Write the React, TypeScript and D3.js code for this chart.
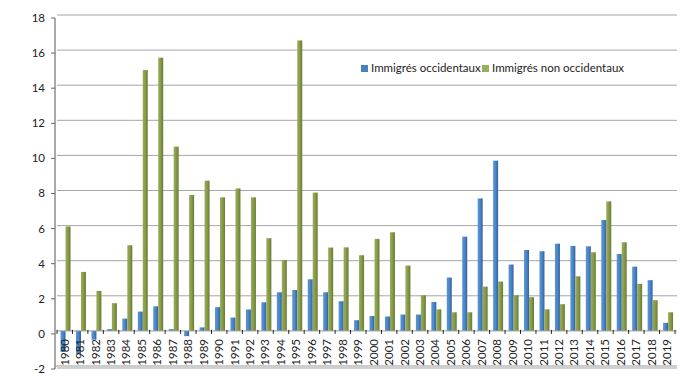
import React from "react";
import * as d3 from "d3";

const years: string[] = d3.range(1980, 2020).map(String);
const occidentaux: number[] = [
  -1.2, -1.3, -0.5, 0.1, 0.7, 1.1, 1.4, 0.1, -0.3, 0.2,
  1.35, 0.76, 1.22, 1.63, 2.2, 2.33, 2.94, 2.2, 1.69, 0.61,
  0.85, 0.82, 0.93, 0.93, 1.65, 3.04, 5.37, 7.55, 9.7, 3.78,
  4.61, 4.54, 4.97, 4.84, 4.82, 6.32, 4.38, 3.66, 2.89, 0.46,
];
const nonOccidentaux: number[] = [
  5.95, 3.36, 2.28, 1.58, 4.88, 14.86, 15.57, 10.5, 7.74, 8.56,
  7.61, 8.12, 7.61, 5.28, 4.04, 16.55, 7.88, 4.75, 4.76, 4.31,
  5.24, 5.62, 3.72, 2.03, 1.23, 1.06, 1.06, 2.52, 2.81, 2.03,
  1.92, 1.23, 1.52, 3.11, 4.48, 7.38, 5.05, 2.68, 1.75, 1.06,
];
const seriesNames: string[] = ["Immigrés occidentaux", "Immigrés non occidentaux"];
const yTicks: number[] = [-2, 0, 2, 4, 6, 8, 10, 12, 14, 16, 18];

const W = 680;
const H = 378;
const FONT = "Lato, 'Open Sans', sans-serif";

export default function App() {
  const y = d3.scaleLinear().domain([-2, 18]).range([366, 15]);
  const x = d3.scaleBand<string>().domain(years).range([57, 675]).padding(0);
  const x1 = d3
    .scaleBand<string>()
    .domain(["occ", "non"])
    .range([0, x.bandwidth()])
    .paddingInner(0)
    .paddingOuter(0.55);
  const bw = x1.bandwidth();
  const shift = 0.8;

  const series = [
    { key: "occ", values: occidentaux, fill: "url(#gBlue)" },
    { key: "non", values: nonOccidentaux, fill: "url(#gGreen)" },
  ];

  return (
    <svg
      width={W}
      height={H}
      style={{ position: "absolute", left: 0, top: 0, background: "#fff" }}
    >
      <defs>
        <linearGradient id="gBlue" x1="0" x2="1" y1="0" y2="0">
          <stop offset="0" stopColor="#5a93d2" />
          <stop offset="0.45" stopColor="#4d89cb" />
          <stop offset="1" stopColor="#2f62a0" />
        </linearGradient>
        <linearGradient id="gGreen" x1="0" x2="1" y1="0" y2="0">
          <stop offset="0" stopColor="#98ab58" />
          <stop offset="0.45" stopColor="#8a9e4b" />
          <stop offset="1" stopColor="#697a32" />
        </linearGradient>
      </defs>

      {/* gridlines */}
      {yTicks
        .filter((t) => t > 0)
        .map((t) => (
          <line
            key={"g" + t}
            x1={57}
            x2={677}
            y1={y(t)}
            y2={y(t)}
            stroke="#a6a6a6"
            strokeWidth={1}
          />
        ))}

      {/* floor at -2 */}
      <line x1={57} x2={677} y1={y(-2) + 2} y2={y(-2) + 2} stroke="#d0d0d0" strokeWidth={2} />
      <line x1={55} x2={677} y1={y(-2)} y2={y(-2)} stroke="#9a9a9a" strokeWidth={1} />

      {/* bars */}
      {series.map((s) =>
        s.values.map((v, i) => {
          const xx = (x(years[i]) ?? 0) + (x1(s.key) ?? 0) + shift;
          const y0 = y(0);
          const yv = y(v);
          return (
            <rect
              key={s.key + i}
              x={xx}
              y={Math.min(y0, yv)}
              width={bw}
              height={Math.abs(yv - y0)}
              fill={s.fill}
            />
          );
        })
      )}

      {/* zero line */}
      <line x1={57} x2={677} y1={y(0)} y2={y(0)} stroke="#9a9a9a" strokeWidth={1} />
      {years.map((yr, i) => (
        <line
          key={"xt" + yr}
          x1={x(yr) ?? 0}
          x2={x(yr) ?? 0}
          y1={y(0) - 1}
          y2={y(0) + 3}
          stroke="#222"
          strokeWidth={1}
        />
      ))}
      <line x1={675} x2={675} y1={y(0) - 1} y2={y(0) + 3} stroke="#222" />

      {/* y axis */}
      <line x1={55} x2={55} y1={y(18) + 3} y2={y(-2) + 3} stroke="#8c8c8c" strokeWidth={1.5} />
      {yTicks.map((t) => (
        <g key={"yt" + t}>
          <line x1={51} x2={55} y1={y(t) + 3} y2={y(t) + 3} stroke="#666" />
          <text
            x={45}
            y={y(t) + 4}
            textAnchor="end"
            dominantBaseline="middle"
            fontFamily={FONT}
            fontSize={11.5}
            fill="#222"
          >
            {t}
          </text>
        </g>
      ))}

      {/* x labels */}
      {years.map((yr) => {
        const cx = (x(yr) ?? 0) + x.bandwidth() / 2 + 1;
        const ty = 339;
        return (
          <text
            key={"xl" + yr}
            transform={`translate(${cx},${ty}) rotate(-90)`}
            textAnchor="end"
            dominantBaseline="middle"
            fontFamily={FONT}
            fontSize={11.5}
            fill="#222"
          >
            {yr}
          </text>
        );
      })}

      {/* legend */}
      <g fontFamily={FONT} fontSize={11.5} fill="#222">
        <rect x={361} y={65} width={7} height={7} fill="#4a80c2" />
        <text x={371} y={69} dominantBaseline="middle">
          {seriesNames[0]}
        </text>
        <rect x={482} y={65} width={7} height={7} fill="#98b05c" />
        <text x={492} y={69} dominantBaseline="middle">
          {seriesNames[1]}
        </text>
      </g>
    </svg>
  );
}
